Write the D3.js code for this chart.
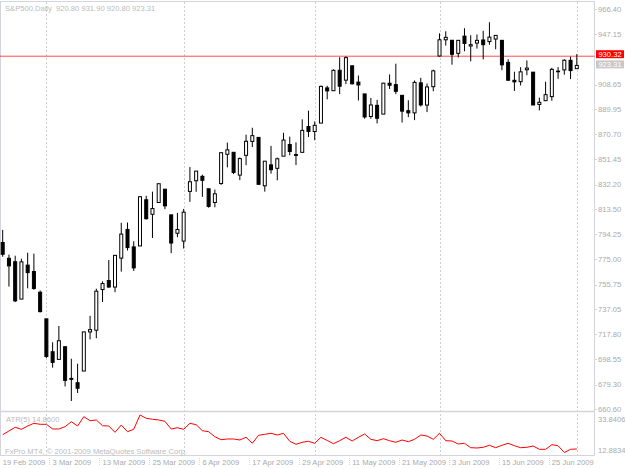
<!DOCTYPE html>
<html>
<head>
<meta charset="utf-8">
<script src="https://cdn.jsdelivr.net/npm/d3@7"></script>
<style>
body { margin: 0; background: #fff; }
svg { display: block; font-family: "Liberation Sans", Arial, sans-serif; }
</style>
</head>
<body>
<svg id="svg"></svg>
<script>
var width = 625, height = 469;

// chart data
var symbol = "S&P500,Daily";
var dates = ["2009-02-19","2009-02-20","2009-02-23","2009-02-24","2009-02-25","2009-02-26","2009-02-27",
	"2009-03-02","2009-03-03","2009-03-04","2009-03-05","2009-03-06","2009-03-09","2009-03-10","2009-03-11",
	"2009-03-12","2009-03-13","2009-03-16","2009-03-17","2009-03-18","2009-03-19","2009-03-20","2009-03-23",
	"2009-03-24","2009-03-25","2009-03-26","2009-03-27","2009-03-30","2009-03-31","2009-04-01","2009-04-02",
	"2009-04-03","2009-04-06","2009-04-07","2009-04-08","2009-04-09","2009-04-13","2009-04-14","2009-04-15",
	"2009-04-16","2009-04-17","2009-04-20","2009-04-21","2009-04-22","2009-04-23","2009-04-24","2009-04-27",
	"2009-04-28","2009-04-29","2009-04-30","2009-05-01","2009-05-04","2009-05-05","2009-05-06","2009-05-07",
	"2009-05-08","2009-05-11","2009-05-12","2009-05-13","2009-05-14","2009-05-15","2009-05-18","2009-05-19",
	"2009-05-20","2009-05-21","2009-05-22","2009-05-26","2009-05-27","2009-05-28","2009-05-29","2009-06-01",
	"2009-06-02","2009-06-03","2009-06-04","2009-06-05","2009-06-08","2009-06-09","2009-06-10","2009-06-11",
	"2009-06-12","2009-06-15","2009-06-16","2009-06-17","2009-06-18","2009-06-19","2009-06-22","2009-06-23",
	"2009-06-24","2009-06-25","2009-06-26","2009-06-29","2009-06-30","2009-07-01"];

var open = [787.91,775.87,773.25,744.69,770.64,765.76,749.93,
	729.57,704.44,698.60,708.27,684.04,680.76,689.70,719.59,720.89,751.97,758.84,753.88,776.01,797.92,784.58,
	785.30,820.60,809.50,818.50,828.68,809.07,795.00,
	789.00,827.00,835.13,838.50,829.00,818.50,833.00,855.33,856.88,839.44,854.54,865.18,868.27,831.25,847.26,
	844.62,853.91,862.82,854.48,856.85,876.59,
	872.74,879.21,906.10,903.95,919.58,912.00,922.99,910.52,901.50,884.24,892.76,886.07,909.67,908.62,900.42,
	888.68,887.00,909.95,892.96,907.02,
	930.50,942.87,942.51,932.49,945.67,938.12,940.35,942.73,941.50,943.44,942.45,925.60,911.89,910.86,919.96,
	918.13,893.46,896.31,899.45,918.84,919.86,927.15,920.80];

var high = [797.58,778.69,777.85,775.49,780.12,779.42,751.27,
	729.57,711.67,724.12,708.27,699.09,695.27,719.60,731.92,752.63,758.29,774.53,778.12,803.04,803.24,788.91,
	823.37,823.65,826.78,832.98,828.68,809.07,810.48,
	813.62,845.61,842.50,839.75,829.00,828.42,856.91,864.31,856.88,852.93,870.35,875.63,868.27,850.09,861.78,
	852.87,871.80,868.83,864.48,882.06,888.70,
	880.48,907.85,907.70,920.28,929.58,930.17,922.99,915.57,901.50,898.36,896.97,910.00,916.39,924.60,900.42,
	896.65,911.76,913.84,909.45,920.02,
	947.77,949.38,942.51,942.47,951.69,946.33,946.92,949.77,956.23,946.30,942.45,928.00,918.44,921.93,927.09,
	918.13,898.69,910.85,921.42,922.00,927.99,930.01,931.90];

var low = [777.03,754.25,742.37,744.69,752.89,751.75,734.52,
	699.70,692.30,698.60,677.93,666.79,672.88,689.70,713.85,714.76,742.46,753.37,749.93,765.64,781.82,766.20,
	785.30,805.48,791.37,818.50,813.43,779.81,792.00,
	783.32,819.00,826.70,822.79,814.53,814.84,832.00,845.35,840.25,835.58,847.04,860.87,832.39,826.83,840.57,
	835.45,853.91,854.65,847.12,856.85,868.51,
	866.10,879.21,897.34,903.95,901.36,909.03,908.68,896.46,882.52,882.52,878.94,886.07,905.22,901.37,879.61,
	883.75,881.46,891.87,887.60,903.56,
	930.00,938.46,923.85,929.32,934.13,926.44,936.15,927.97,939.04,935.66,919.65,911.60,903.78,907.94,915.80,
	893.04,888.86,896.31,896.27,913.03,916.18,912.86,920.80];

var close = [778.94,770.05,743.33,773.14,764.90,752.83,735.09,
	700.82,696.33,712.87,682.55,683.38,676.53,719.60,721.36,750.74,756.55,753.89,778.12,794.35,784.04,768.54,
	822.92,806.12,813.88,832.86,815.94,787.53,797.87,
	811.08,834.38,842.50,835.48,815.55,825.16,856.56,858.73,841.50,852.06,865.30,869.60,832.39,850.08,843.55,
	851.92,866.23,857.51,855.16,873.64,872.81,
	877.52,907.24,903.80,919.53,907.39,929.23,909.24,908.35,883.92,893.07,882.88,909.71,908.13,903.47,888.33,
	887.00,910.33,893.06,906.83,919.14,
	942.87,944.74,931.76,942.46,940.09,939.14,942.43,939.15,944.89,946.21,923.72,911.97,910.71,918.37,921.23,
	893.04,895.10,900.94,920.26,918.90,927.23,919.32,923.31];

// ATR(5) line of the lower window
var atr = [22.83,24.90,26.97,25.85,27.69,29.20,28.64,28.64,26.02,26.02,27.30,30.10,27.69,32.89,30.66,31.05,
	27.86,27.69,24.17,28.25,24.51,25.85,33.84,32.00,31.44,31.05,30.32,26.02,26.74,25.85,29.20,28.42,25.07,
	24.51,21.71,20.04,20.43,20.43,19.87,21.38,18.03,22.50,23.06,23.61,22.66,23.61,19.14,17.47,18.58,19.14,
	18.03,21.38,19.59,17.80,19.48,21.38,19.31,21.38,23.22,20.26,19.48,20.60,19.48,18.58,19.87,18.92,20.26,
	22.66,22.10,20.26,23.61,19.48,19.31,17.63,18.03,15.57,15.40,15.79,16.91,15.57,16.91,18.03,16.68,15.57,
	15.79,16.52,14.67,14.67,17.24,16.68,12.88,14.67,14.86];
var atrName = "ATR(5)";
var atrTicks = [33.8406, 12.8834];

var priceTicks = [966.40, 947.15, 908.65, 889.95, 870.70, 851.45, 832.20, 813.50, 794.25,
	775.00, 755.75, 737.05, 717.80, 698.55, 679.30, 660.60];
var hLinePrice = 930.32;
var copyright = "FxPro MT4, \u00a9 2001-2009 MetaQuotes Software Corp.";

var svg = d3.select("#svg")
	.attr("width", width)
	.attr("height", height);

var parseTime = d3.timeParse("%Y-%m-%d");
var fmtDate = d3.timeFormat("%-d %b %Y");
var bars = dates.map(function(d, i) {
	return { i: i, date: parseTime(d), o: open[i], h: high[i], l: low[i], c: close[i] };
});

var x = d3.scaleLinear().domain([0, 92]).range([2.7, 576.8]);
var y = d3.scaleLinear().domain([660.6, 966.4]).range([409.1, 9]);
var ya = d3.scaleLinear().domain([12.8834, 33.8406]).range([452.5, 415]);

var axisX = 594.5, frameCol = "#d4d4dc", textCol = "#aaaaaa", fs = "7.6px";

svg.append("rect").attr("width", width).attr("height", height).attr("fill", "#fff");

// month separators (dashed grid)
var monthIdx = bars.filter(function(d, i) {
	return i > 0 && d.date.getMonth() != bars[i - 1].date.getMonth();
});
svg.append("g").selectAll("line")
	.data(monthIdx)
	.enter()
	.append("line")
	.attr("x1", function(d) { return Math.round(x(d.i)) + 0.5; })
	.attr("x2", function(d) { return Math.round(x(d.i)) + 0.5; })
	.attr("y1", 2).attr("y2", 455)
	.attr("stroke", "#cfcfcf")
	.attr("stroke-dasharray", "2,2");

// frames
var frame = svg.append("g").attr("stroke", frameCol).attr("fill", "none");
frame.append("line").attr("x1", 0).attr("x2", axisX).attr("y1", 1.5).attr("y2", 1.5);
frame.append("line").attr("x1", 0.5).attr("x2", 0.5).attr("y1", 1.5).attr("y2", 455.5);
frame.append("line").attr("x1", axisX).attr("x2", axisX).attr("y1", 1.5).attr("y2", 455.5);
frame.append("line").attr("x1", 0).attr("x2", axisX).attr("y1", 411.5).attr("y2", 411.5).attr("stroke-width", 1.6);
frame.append("line").attr("x1", 0).attr("x2", axisX).attr("y1", 455.5).attr("y2", 455.5);

// horizontal line object
svg.append("line")
	.attr("x1", 0).attr("x2", axisX)
	.attr("y1", y(hLinePrice)).attr("y2", y(hLinePrice))
	.attr("stroke", "#ff0000").attr("stroke-opacity", 0.7);

// candles
var candle = svg.append("g").selectAll(".candle")
	.data(bars)
	.enter()
	.append("g")
	.attr("class", "candle");

candle.append("line")
	.attr("x1", function(d) { return x(d.i); })
	.attr("x2", function(d) { return x(d.i); })
	.attr("y1", function(d) { return y(d.h); })
	.attr("y2", function(d) { return y(d.l); })
	.attr("stroke", "#000");

candle.append("rect")
	.attr("x", function(d) { return x(d.i) - 1.5; })
	.attr("width", 3)
	.attr("y", function(d) { return y(Math.max(d.o, d.c)); })
	.attr("height", function(d) { return Math.max(0.6, Math.abs(y(d.o) - y(d.c))); })
	.attr("fill", function(d) { return d.c >= d.o ? "#fff" : "#000"; })
	.attr("stroke", "#000");

// ATR line
svg.append("path")
	.datum(atr)
	.attr("fill", "none")
	.attr("stroke", "#ff0000")
	.attr("stroke-width", 1)
	.attr("d", d3.line()
		.x(function(d, i) { return x(i); })
		.y(function(d) { return ya(d); }));

// price axis
var pa = svg.append("g").attr("font-size", fs).attr("fill", textCol);
pa.selectAll("text")
	.data(priceTicks)
	.enter()
	.append("text")
	.attr("x", 598)
	.attr("y", function(d) { return y(d); })
	.attr("dy", "0.35em")
	.text(d3.format(".2f"));
pa.selectAll("line")
	.data(priceTicks)
	.enter()
	.append("line")
	.attr("x1", axisX).attr("x2", 597)
	.attr("y1", function(d) { return Math.round(y(d)) + 0.5; })
	.attr("y2", function(d) { return Math.round(y(d)) + 0.5; })
	.attr("stroke", frameCol);

pa.selectAll(".atrtick")
	.data(atrTicks)
	.enter()
	.append("text")
	.attr("x", 598)
	.attr("y", function(d, i) { return i == 0 ? 419 : 450; })
	.attr("dy", "0.35em")
	.text(d3.format(".4f"));

// price boxes: line object and last bid
var last = bars[bars.length - 1];
var boxes = [
	{ v: hLinePrice, fill: "#ff0000", cy: y(hLinePrice) - 2 },
	{ v: last.c, fill: "#c8c8c8", cy: y(last.c) - 1 }
];
var bx = svg.append("g").selectAll("g").data(boxes).enter().append("g");
bx.append("rect")
	.attr("x", 596).attr("width", 28)
	.attr("y", function(d) { return d.cy - 4; })
	.attr("height", 8)
	.attr("fill", function(d) { return d.fill; });
bx.append("text")
	.attr("x", 610).attr("y", function(d) { return d.cy; })
	.attr("dy", "0.35em")
	.attr("text-anchor", "middle")
	.attr("font-size", fs)
	.attr("fill", "#fff")
	.text(function(d) { return d3.format(".2f")(d.v); });

// time axis
var ticks = bars.filter(function(d) { return d.i % 8 == 0; });
var ta = svg.append("g").attr("font-size", fs).attr("fill", textCol);
ta.selectAll("text")
	.data(ticks)
	.enter()
	.append("text")
	.attr("x", function(d) { return x(d.i); })
	.attr("y", 465)
	.text(function(d) { return fmtDate(d.date); });
ta.selectAll("line")
	.data(ticks.slice(1))
	.enter()
	.append("line")
	.attr("x1", function(d) { return Math.round(x(d.i) - 3.3) + 0.5; })
	.attr("x2", function(d) { return Math.round(x(d.i) - 3.3) + 0.5; })
	.attr("y1", 458).attr("y2", 466)
	.attr("stroke", frameCol)
	.attr("stroke-dasharray", "1,1");

// window captions
var f = d3.format(".2f");
svg.append("text")
	.attr("x", 5).attr("y", 10.5)
	.attr("font-size", fs).attr("fill", "#bbbbbb")
	.attr("xml:space", "preserve")
	.text(symbol + "  " + [last.o, last.h, last.l, last.c].map(f).join(" "));
svg.append("text")
	.attr("x", 6).attr("y", 422)
	.attr("font-size", fs).attr("fill", "#bbbbbb")
	.text(atrName + " " + d3.format(".4f")(atr[atr.length - 1]));
svg.append("text")
	.attr("x", 5).attr("y", 454)
	.attr("font-size", fs).attr("fill", "#bbbbbb")
	.text(copyright);
</script>
</body>
</html>
